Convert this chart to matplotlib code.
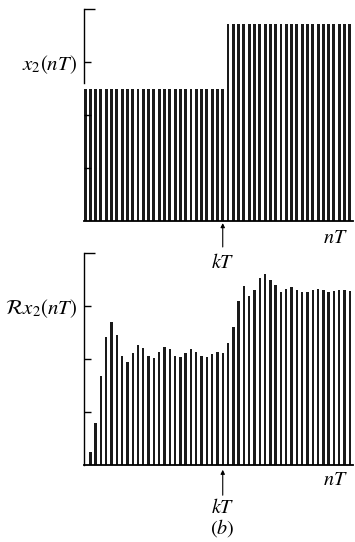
import matplotlib
matplotlib.use("Agg")
import matplotlib.pyplot as plt

plt.rcParams['mathtext.fontset'] = 'stix'
plt.rcParams['font.family'] = 'STIXGeneral'

# ---------------- data ----------------
# top panel: step signal x2(nT), n = 0..50, step after n = k
n_top = list(range(51))
k = 26
low_level, high_level = 2.5, 3.72
x2 = [low_level if n <= k else high_level for n in n_top]

# bottom panel: reconstructed signal R x2(nT), n = 1..50
n_bot = list(range(1, 51))
rx2 = [0.24, 0.79, 1.67, 2.42, 2.70, 2.45, 2.05, 1.95, 2.12, 2.27,
       2.20, 2.05, 2.01, 2.13, 2.23, 2.19, 2.05, 2.03, 2.12, 2.19,
       2.13, 2.06, 2.04, 2.09, 2.13, 2.11, 2.30, 2.60, 3.10, 3.38,
       3.18, 3.31, 3.52, 3.60, 3.50, 3.40, 3.26, 3.33, 3.35, 3.31,
       3.26, 3.26, 3.31, 3.33, 3.30, 3.26, 3.28, 3.30, 3.31, 3.29]

top_label = r'$x_2(nT)$'
bot_label = r'$\mathcal{R}x_2(nT)$'

fig = plt.figure(figsize=(3.55, 5.42), dpi=100)
W, H = 355, 542

def make_axes(top_px, bottom_px):
    ax = fig.add_axes([84 / W, (H - bottom_px) / H, 269 / W, (bottom_px - top_px) / H])
    ax.patch.set_visible(False)  # so labels under the other panel stay visible
    return ax

def style(ax, ylabel):
    ax.set_xlim(-0.2, 50.6)
    ax.set_ylim(0, 4)
    for s in ['top', 'right']:
        ax.spines[s].set_visible(False)
    ax.spines['left'].set_linewidth(1.0)
    ax.spines['bottom'].set_linewidth(1.3)
    ax.set_xticks([])
    ax.set_yticks([1, 2, 3])
    ax.set_yticklabels(['', '', ylabel], fontsize=15)
    ax.set_yticks([4], minor=True)
    ax.tick_params(axis='y', which='major', direction='in', length=5, width=1.0, pad=5)
    ax.tick_params(axis='y', which='minor', direction='in', length=8, width=1.0)

def bottom_marks(ax, y_head, y_tail, y_kt, y_nt):
    ax.annotate('', xy=(k, y_head), xytext=(k, y_tail), annotation_clip=False,
                arrowprops=dict(arrowstyle='-|>', lw=0.8, color='black', mutation_scale=6,
                                shrinkA=0, shrinkB=0))
    ax.text(k, y_kt, r'$kT$', ha='center', va='center', fontsize=14.5, clip_on=False)
    ax.text(47.2, y_nt, r'$nT$', ha='center', va='center', fontsize=14.5, clip_on=False)

# ---------------- top panel ----------------
ax1 = make_axes(9, 221)
ax1.bar(n_top, x2, width=0.55, color='#1a1a1a', linewidth=0)
style(ax1, top_label)
ax1.spines['left'].set_bounds(2.6, 4)
bottom_marks(ax1, -0.04, -0.49, -0.79, -0.32)

# ---------------- bottom panel ----------------
ax2 = make_axes(253, 465)
ax2.bar(n_bot, rx2, width=0.45, color='#1a1a1a', linewidth=0)
style(ax2, bot_label)
bottom_marks(ax2, -0.09, -0.57, -0.80, -0.30)
ax2.text(k, -1.19, r'$(b)$', ha='center', va='center', fontsize=14.5, clip_on=False)

fig.savefig("out.png", dpi=100)
